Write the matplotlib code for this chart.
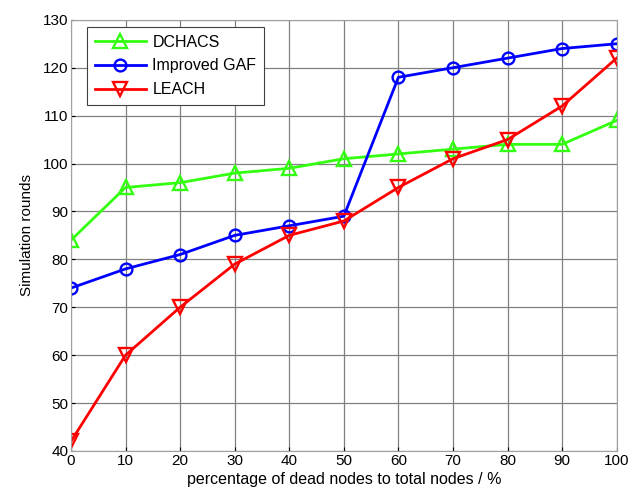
import matplotlib
matplotlib.use("Agg")
import matplotlib.pyplot as plt

plt.rcParams.update({"font.family": ["Liberation Sans", "DejaVu Sans"], "font.size": 11})

x = [0, 10, 20, 30, 40, 50, 60, 70, 80, 90, 100]
dchacs = [84, 95, 96, 98, 99, 101, 102, 103, 104, 104, 109]
gaf = [74, 78, 81, 85, 87, 89, 118, 120, 122, 124, 125]
leach = [42, 60, 70, 79, 85, 88, 95, 101, 105, 112, 122]

fig = plt.figure(figsize=(6.28, 4.95), dpi=100)
ax = fig.add_axes([0.113, 0.089, 0.869, 0.871])

ax.plot(x, dchacs, "-^", color="#33ff11", lw=2, ms=9.5, mfc="none", mew=1.7, label="DCHACS")
ax.plot(x, gaf, "-o", color="#0000ff", lw=2, ms=8.5, mfc="none", mew=1.7, label="Improved GAF")
ax.plot(x, leach, "-v", color="#ff0000", lw=2, ms=9.5, mfc="none", mew=1.7, label="LEACH")

ax.set_xlim(0, 100)
ax.set_ylim(40, 130)
ax.set_xticks(x)
ax.set_yticks(range(40, 131, 10))
ax.grid(True, color="#808080", lw=0.9)
ax.set_axisbelow(True)
for s in ax.spines.values():
    s.set_color("#a0a0a0")
ax.tick_params(direction="in", length=3, color="black", pad=2, labelsize=11)
ax.set_xlabel("percentage of dead nodes to total nodes / %", labelpad=3, fontsize=11.5)
ax.set_ylabel("Simulation rounds", labelpad=6, fontsize=11)

leg = ax.legend(loc="upper left", bbox_to_anchor=(0.029, 0.984), borderaxespad=0,
                fancybox=False, edgecolor="#404040", framealpha=1, handlelength=3.2,
                borderpad=0.5, labelspacing=0.55, handletextpad=0.4, fontsize=11.5)
leg.get_frame().set_linewidth(0.8)

fig.savefig("out.png")
